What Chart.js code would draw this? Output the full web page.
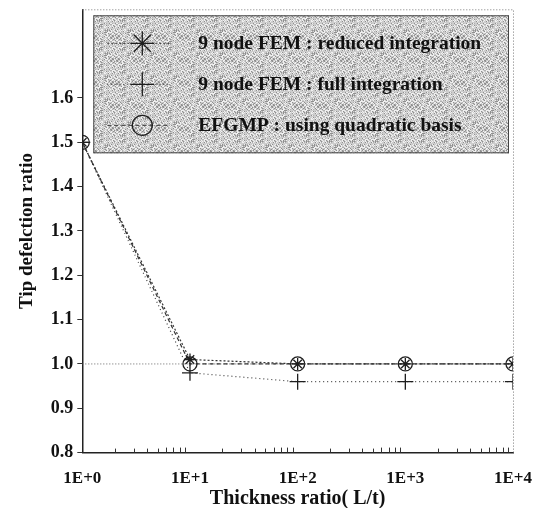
<!DOCTYPE html>
<html>
<head>
<meta charset="utf-8">
<script src="https://cdn.jsdelivr.net/npm/chart.js@4/dist/chart.umd.min.js"></script>
<style>
  html, body { margin: 0; padding: 0; background: #fff; }
  #wrap { width: 540px; height: 508px; }
</style>
</head>
<body>
<div id="wrap"><canvas id="c" width="540" height="508"></canvas></div>
<script>
// Thickness ratio L/t (log axis) and tip deflection ratios per method
const thicknessRatios = [1, 10, 100, 1000, 10000];
const reducedFEM = [1.5, 1.01, 1.0, 1.0, 1.0];
const fullFEM = [1.5, 0.98, 0.96, 0.96, 0.96];
const efgmpQuadratic = [1.5, 1.0, 1.0, 1.0, 1.0];
const exactRatio = [1.0, 1.0];
const exactRange = [1, 10000];
const xTickLabels = ['1E+0', '1E+1', '1E+2', '1E+3', '1E+4'];
const yTickValues = [0.8, 0.9, 1.0, 1.1, 1.2, 1.3, 1.4, 1.5, 1.6];
const seriesNames = [
  '9 node FEM : reduced integration',
  '9 node FEM : full integration',
  'EFGMP : using quadratic basis'
];

const INK = '#1e1e1e';
const SERIF = '"Liberation Serif", "DejaVu Serif", serif';

function toPoints(xs, ys) {
  return xs.map((x, i) => ({ x: x, y: ys[i] }));
}

// stippled grey fill for the legend panel (fixed dither tile)
function stipplePattern(ctx) {
  const n = 23;
  const tile = document.createElement('canvas');
  tile.width = n; tile.height = n;
  const t = tile.getContext('2d');
  t.fillStyle = '#cdcdcd';
  t.fillRect(0, 0, n, n);
  for (let i = 0; i < n; i++) {
    for (let j = 0; j < n; j++) {
      const k = (i * 37 + j * 61 + i * j * 13) % 17;
      if (k < 3) { t.fillStyle = '#8f8f8f'; t.fillRect(i, j, 1, 1); }
      else if (k < 8) { t.fillStyle = '#f0f0f0'; t.fillRect(i, j, 1, 1); }
      else if (k < 10) { t.fillStyle = '#b0b0b0'; t.fillRect(i, j, 1, 1); }
    }
  }
  return ctx.createPattern(tile, 'repeat');
}

const frameAndLegend = {
  id: 'frameAndLegend',
  beforeDatasetsDraw(chart) {
    const { ctx, chartArea: a, scales } = chart;
    ctx.save();
    // dotted top and right frame
    ctx.strokeStyle = '#777';
    ctx.lineWidth = 1;
    ctx.setLineDash([1, 2]);
    ctx.beginPath();
    ctx.moveTo(a.left, a.top + 0.5);
    ctx.lineTo(a.right + 0.5, a.top + 0.5);
    ctx.lineTo(a.right + 0.5, a.bottom);
    ctx.stroke();
    ctx.setLineDash([]);
    // inward minor ticks on the log axis
    const xs = scales.x;
    ctx.strokeStyle = '#333';
    ctx.lineWidth = 1;
    for (let d = 0; d < 4; d++) {
      const base = Math.pow(10, d);
      for (let m = 2; m <= 9; m++) {
        const px = Math.round(xs.getPixelForValue(base * m)) + 0.5;
        ctx.beginPath();
        ctx.moveTo(px, a.bottom);
        ctx.lineTo(px, a.bottom - (m >= 6 ? 5 : 4));
        ctx.stroke();
      }
    }
    ctx.restore();
  },
  afterDatasetsDraw(chart) {
    const { ctx, chartArea: a } = chart;
    const box = { l: a.left + 11, t: a.top + 6, r: a.right - 4, b: a.top + 144 };
    ctx.save();
    ctx.fillStyle = stipplePattern(ctx);
    ctx.fillRect(box.l, box.t, box.r - box.l, box.b - box.t);
    ctx.strokeStyle = '#444';
    ctx.lineWidth = 1;
    ctx.strokeRect(box.l + 0.5, box.t + 0.5, box.r - box.l - 1, box.b - box.t - 1);
    const rows = [box.t + 28, box.t + 69, box.t + 110];
    const symX = box.l + 49;
    chart.data.datasets.slice(0, 3).forEach((ds, i) => {
      const y = rows[i];
      ctx.strokeStyle = '#333';
      ctx.lineWidth = 1;
      ctx.setLineDash(ds.borderDash || []);
      ctx.beginPath();
      ctx.moveTo(box.l + 14, y);
      ctx.lineTo(box.l + 76, y);
      ctx.stroke();
      ctx.setLineDash([]);
      ctx.strokeStyle = INK;
      ctx.fillStyle = 'rgba(0,0,0,0)';
      ctx.lineWidth = 1.3;
      Chart.helpers.drawPoint(ctx, {
        pointStyle: ds.pointStyle,
        radius: i === 2 ? 10 : 12,
        rotation: 0,
        borderWidth: 1.3
      }, symX, y);
      ctx.fillStyle = '#111';
      ctx.font = 'bold 19.5px ' + SERIF;
      ctx.textBaseline = 'middle';
      ctx.textAlign = 'left';
      ctx.fillText(ds.label, box.l + 105, y + 1);
    });
    ctx.restore();
  }
};

const datasets = [
  {
    label: seriesNames[0],
    data: toPoints(thicknessRatios, reducedFEM),
    pointStyle: 'star', pointRadius: 6, borderDash: [2, 2],
    borderColor: '#333', borderWidth: 1.2,
    pointBorderColor: INK, pointBorderWidth: 1.3, pointBackgroundColor: 'rgba(0,0,0,0)'
  },
  {
    label: seriesNames[1],
    data: toPoints(thicknessRatios, fullFEM),
    pointStyle: 'cross', pointRadius: 8, borderDash: [1, 3],
    borderColor: '#444', borderWidth: 1.2,
    pointBorderColor: INK, pointBorderWidth: 1.3, pointBackgroundColor: 'rgba(0,0,0,0)'
  },
  {
    label: seriesNames[2],
    data: toPoints(thicknessRatios, efgmpQuadratic),
    pointStyle: 'circle', pointRadius: 7, borderDash: [4, 3],
    borderColor: '#333', borderWidth: 1.2,
    pointBorderColor: INK, pointBorderWidth: 1.3, pointBackgroundColor: 'rgba(0,0,0,0)'
  },
  {
    label: 'exact',
    data: toPoints(exactRange, exactRatio),
    pointRadius: 0, borderDash: [1, 2],
    borderColor: '#666', borderWidth: 1
  }
];

new Chart(document.getElementById('c'), {
  type: 'line',
  data: { datasets: datasets },
  plugins: [frameAndLegend],
  options: {
    responsive: false,
    animation: false,
    layout: { padding: { left: 16, right: 27, top: 9, bottom: 0 } },
    plugins: { legend: { display: false }, tooltip: { enabled: false } },
    elements: { line: { tension: 0, fill: false } },
    scales: {
      x: {
        type: 'logarithmic',
        min: 1, max: 10000,
        afterBuildTicks(scale) { scale.ticks = thicknessRatios.map(v => ({ value: v })); },
        afterFit(scale) { scale.paddingLeft = 0; scale.paddingRight = 0; },
        ticks: {
          autoSkip: false, maxRotation: 0, padding: 16,
          color: '#111', font: { family: SERIF, size: 17, weight: 'bold' },
          callback(value) {
            const i = thicknessRatios.indexOf(value);
            return i >= 0 ? xTickLabels[i] : '';
          }
        },
        grid: { drawOnChartArea: false, drawTicks: false },
        border: { display: true, color: '#222', width: 1.5 },
        title: {
          display: true, text: 'Thickness ratio( L/t)', color: '#111',
          font: { family: SERIF, size: 20, weight: 'bold' }, padding: { top: -18, bottom: -3 }
        }
      },
      y: {
        type: 'linear',
        min: 0.8, max: 1.8,
        afterBuildTicks(scale) { scale.ticks = yTickValues.map(v => ({ value: v })); },
        afterFit(scale) { scale.paddingTop = 0; scale.paddingBottom = 0; },
        ticks: {
          autoSkip: false, padding: 4,
          color: '#111', font: { family: SERIF, size: 18, weight: 'bold' },
          callback(value) { return value.toFixed(1); }
        },
        grid: { drawOnChartArea: false, drawTicks: true, tickLength: 5, color: '#333' },
        border: { display: true, color: '#222', width: 1.5 },
        title: {
          display: true, text: 'Tip defelction ratio', color: '#111',
          font: { family: SERIF, size: 19, weight: 'bold' }, padding: { top: 0, bottom: 8 }
        }
      }
    }
  }
});
</script>
</body>
</html>
